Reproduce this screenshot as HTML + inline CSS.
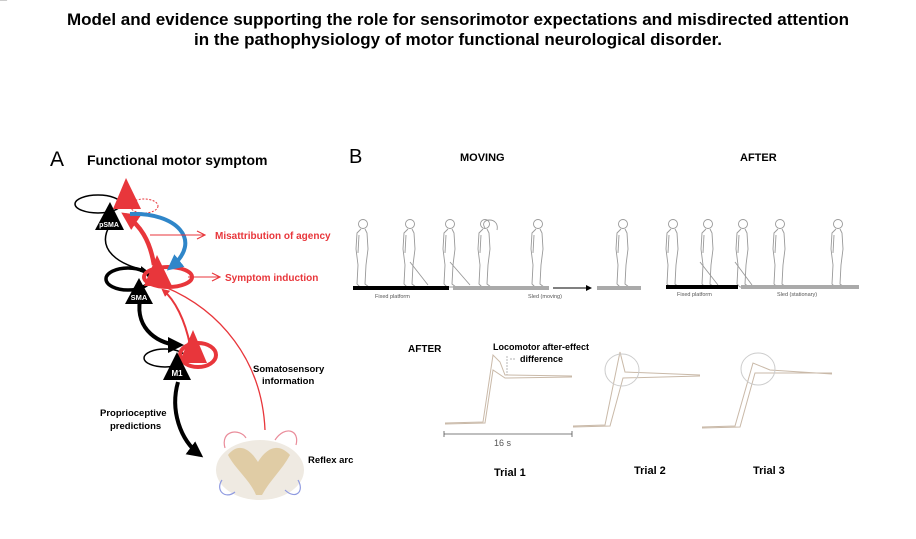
<!DOCTYPE html>
<html><head><meta charset="utf-8"><style>
body{margin:0;background:#fff}
svg{display:block}
text{font-family:"Liberation Sans",Arial,sans-serif}
</style></head><body>
<svg width="916" height="539" viewBox="0 0 916 539" xmlns="http://www.w3.org/2000/svg">
<defs>
<marker id="ab" markerWidth="6" markerHeight="6" refX="4" refY="3" orient="auto" markerUnits="strokeWidth"><path d="M0,0 L6,3 L0,6z" fill="#000"/></marker>
<marker id="ab2" markerWidth="4" markerHeight="4" refX="3" refY="2" orient="auto" markerUnits="strokeWidth"><path d="M0,0 L4,2 L0,4z" fill="#000"/></marker>
<marker id="ar" markerWidth="4" markerHeight="4" refX="3" refY="2" orient="auto" markerUnits="strokeWidth"><path d="M0,0 L4,2 L0,4z" fill="#e8363b"/></marker>
<marker id="ao" markerWidth="10" markerHeight="10" refX="9" refY="5" orient="auto" markerUnits="userSpaceOnUse"><path d="M1,1 L9,5 L1,9" fill="none" stroke="#e8363b" stroke-width="1.2"/></marker>
<marker id="abl" markerWidth="4" markerHeight="4" refX="3" refY="2" orient="auto" markerUnits="strokeWidth"><path d="M0,0 L4,2 L0,4z" fill="#2f86c9"/></marker>
</defs>
<text x="458" y="25" font-size="17" font-weight="bold" text-anchor="middle">Model and evidence supporting the role for sensorimotor expectations and misdirected attention</text>
<text x="458" y="45" font-size="17" font-weight="bold" text-anchor="middle">in the pathophysiology of motor functional neurological disorder.</text>

<text x="50" y="166" font-size="21">A</text>
<text x="87" y="165" font-size="14" font-weight="bold">Functional motor symptom</text>

<ellipse cx="98" cy="204" rx="23" ry="9" fill="none" stroke="#000" stroke-width="1.5"/>
<ellipse cx="144" cy="206" rx="14" ry="7" fill="none" stroke="#e8363b" stroke-width="1" stroke-dasharray="2,1.5"/>
<ellipse cx="128" cy="279" rx="22" ry="11" fill="none" stroke="#000" stroke-width="3.5"/>
<ellipse cx="168" cy="277" rx="24" ry="10" fill="none" stroke="#e8363b" stroke-width="4"/>
<ellipse cx="165" cy="358" rx="21" ry="9" fill="none" stroke="#000" stroke-width="1.5"/>
<ellipse cx="198" cy="355" rx="18" ry="12" fill="none" stroke="#e8363b" stroke-width="4"/>

<path d="M110,225 C95,250 120,265 145,270" fill="none" stroke="#000" stroke-width="1.5" marker-end="url(#ab2)"/>
<path d="M140,300 C135,330 160,345 180,345" fill="none" stroke="#000" stroke-width="4" marker-end="url(#ab2)"/>
<path d="M178,382 C170,410 180,440 200,455" fill="none" stroke="#000" stroke-width="4" marker-end="url(#ab2)"/>
<path d="M154,265 C150,240 140,225 125,215" fill="none" stroke="#e8363b" stroke-width="4.5" marker-end="url(#ar)"/>
<path d="M130,214 C175,212 205,240 170,268" fill="none" stroke="#2f86c9" stroke-width="4" marker-end="url(#abl)"/>
<path d="M190,345 C185,320 175,300 163,290" fill="none" stroke="#e8363b" stroke-width="2" marker-end="url(#ar)"/>
<path d="M265,430 C262,360 220,310 165,287" fill="none" stroke="#e8363b" stroke-width="1.3"/>
<path d="M150,235 L205,235" stroke="#e8363b" stroke-width="1" marker-end="url(#ao)"/>
<path d="M188,277 L220,277" stroke="#e8363b" stroke-width="1" marker-end="url(#ao)"/>

<polygon points="126,178 113,209 141,209" fill="#e8363b"/>
<polygon points="110,202 95,230 124,230" fill="#000"/>
<text x="109" y="227" font-size="7" font-weight="bold" fill="#fff" text-anchor="middle">pSMA</text>
<polygon points="157,255 144,286 172,286" fill="#e8363b"/>
<polygon points="139,278 125,304 153,304" fill="#000"/>
<text x="139" y="300" font-size="7.5" font-weight="bold" fill="#fff" text-anchor="middle">SMA</text>
<polygon points="193,330 179,363 207,363" fill="#e8363b"/>
<polygon points="177,352 163,380 191,380" fill="#000"/>
<text x="177" y="376" font-size="8" font-weight="bold" fill="#fff" text-anchor="middle">M1</text>

<text x="215" y="239" font-size="10" font-weight="bold" fill="#e8363b">Misattribution of agency</text>
<text x="225" y="281" font-size="10" font-weight="bold" fill="#e8363b">Symptom induction</text>
<text x="253" y="372" font-size="9.5" font-weight="bold">Somatosensory</text>
<text x="262" y="384" font-size="9.5" font-weight="bold">information</text>
<text x="100" y="416" font-size="9.5" font-weight="bold">Proprioceptive</text>
<text x="110" y="429" font-size="9.5" font-weight="bold">predictions</text>
<text x="308" y="463" font-size="9.5" font-weight="bold">Reflex arc</text>

<ellipse cx="260" cy="470" rx="44" ry="30" fill="#efeae2"/>
<path d="M228,455 C240,440 252,452 258,462 C264,452 276,440 290,455 C282,470 270,480 262,495 L256,495 C250,480 236,470 228,455z" fill="#e0cca5"/>
<path d="M225,448 C220,430 240,428 246,438 M275,440 C285,425 300,430 296,445" fill="none" stroke="#e98c9a" stroke-width="1.2"/>
<path d="M222,480 C215,490 225,500 235,492 M285,490 C295,500 305,492 298,480" fill="none" stroke="#8f9ae0" stroke-width="1.2"/>

<text x="349" y="163" font-size="20">B</text>
<text x="460" y="161" font-size="11" font-weight="bold">MOVING</text>
<text x="740" y="161" font-size="11" font-weight="bold">AFTER</text>

<g fill="none" stroke="#999" stroke-width="0.9">
<g id="fig"><circle cx="0" cy="-63" r="4.5"/><path d="M-2,-58 L-6,-54 L-7,-38 L-5,-22 L-6,-3 L-3,0 L6,0 L2,-3 L3,-22 L5,-38 L4,-54 L2,-58"/><path d="M-4,-52 L-5,-34"/></g>
<use href="#fig" x="363" y="287"/>
<use href="#fig" x="410" y="287"/>
<use href="#fig" x="450" y="287"/>
<use href="#fig" x="485" y="287"/>
<use href="#fig" x="538" y="287"/>
<use href="#fig" x="623" y="287"/>
<use href="#fig" x="673" y="287"/>
<use href="#fig" x="708" y="287"/>
<use href="#fig" x="743" y="287"/>
<use href="#fig" x="780" y="287"/>
<use href="#fig" x="838" y="287"/>
<path d="M410,262 L428,285 M450,262 L470,285 M485,228 C478,218 500,216 497,230 M700,262 L718,285 M735,262 L752,285"/>
</g>
<rect x="353" y="286" width="96" height="4" fill="#000"/>
<rect x="453" y="286" width="96" height="4" fill="#aaa"/>
<path d="M553,288 L590,288" stroke="#000" stroke-width="1" marker-end="url(#ab)"/>
<rect x="597" y="286" width="44" height="4" fill="#aaa"/>
<rect x="666" y="285" width="72" height="4" fill="#000"/>
<rect x="741" y="285" width="118" height="4" fill="#aaa"/>
<text x="375" y="298" font-size="5.5" fill="#555">Fixed platform</text>
<text x="528" y="298" font-size="5.5" fill="#555">Sled (moving)</text>
<text x="677" y="296" font-size="5.5" fill="#555">Fixed platform</text>
<text x="777" y="296" font-size="5.5" fill="#555">Sled (stationary)</text>

<text x="408" y="352" font-size="10" font-weight="bold">AFTER</text>
<text x="493" y="350" font-size="9" font-weight="bold">Locomotor after-effect</text>
<text x="520" y="362" font-size="9" font-weight="bold">difference</text>
<path d="M507,356 L507,375 M510,359 L516,359" stroke="#999" stroke-width="0.7" stroke-dasharray="2,1" fill="none"/>

<g fill="none" stroke="#c9b9a8" stroke-width="1">
<path d="M445,423 L483,422 L493,355 L500,362 L505,375 L572,376"/>
<path d="M445,424 L485,423 L493,370 L505,378 L572,377"/>
<path d="M573,426 L605,425 L620,352 L625,372 L700,375"/>
<path d="M573,427 L610,426 L623,378 L700,376"/>
<path d="M702,427 L735,426 L753,363 L770,370 L832,374"/>
<path d="M702,428 L740,427 L755,373 L832,373"/>
</g>
<ellipse cx="622" cy="370" rx="17" ry="16" fill="none" stroke="#ccc" stroke-width="1"/>
<ellipse cx="758" cy="369" rx="17" ry="16" fill="none" stroke="#ccc" stroke-width="1"/>
<path d="M444,434 L572,434 M444,431 L444,437 M572,431 L572,437" stroke="#555" stroke-width="0.8"/>
<text x="494" y="446" font-size="9" fill="#555">16 s</text>
<text x="494" y="476" font-size="11" font-weight="bold">Trial 1</text>
<text x="634" y="474" font-size="11" font-weight="bold">Trial 2</text>
<text x="753" y="474" font-size="11" font-weight="bold">Trial 3</text>
</svg>
</body></html>
